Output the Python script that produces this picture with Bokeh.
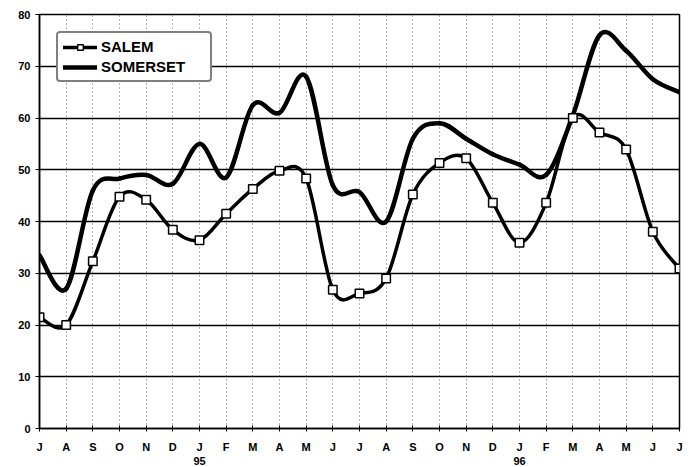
import numpy as np
from bokeh.plotting import figure
from bokeh.models import FixedTicker, LinearAxis, Legend, LegendItem, ColumnDataSource
from bokeh.embed import file_html
from bokeh.resources import INLINE

# ---- data ----
months = ["J", "A", "S", "O", "N", "D", "J", "F", "M", "A", "M", "J",
          "J", "A", "S", "O", "N", "D", "J", "F", "M", "A", "M", "J", "J"]
year_pos = [6, 18]
year_labels = ["95", "96"]
salem = [21.5, 20, 32.3, 44.8, 44.2, 38.4, 36.4, 41.5, 46.3, 49.8, 48.3, 26.8,
         26.1, 29, 45.2, 51.3, 52.2, 43.6, 35.9, 43.6, 60, 57.2, 53.9, 38, 30.9]
somerset = [33.5, 27, 46, 48.3, 49, 47.3, 55, 48.5, 62.5, 61, 68, 47,
            45.7, 40, 56, 59, 56, 53, 51, 49, 60.5, 76, 73, 67.5, 65]
y_ticks = [0, 10, 20, 30, 40, 50, 60, 70, 80]

FONT = "Liberation Sans"


def bezier_source(vals):
    y = np.asarray(vals, dtype=float)
    x = np.arange(len(y), dtype=float)
    xp = np.concatenate([[x[0]], x, [x[-1]]])
    yp = np.concatenate([[y[0]], y, [y[-1]]])
    n = len(y) - 1
    i = np.arange(n)
    return ColumnDataSource(dict(
        x0=x[i], y0=y[i], x1=x[i + 1], y1=y[i + 1],
        cx0=x[i] + (xp[i + 2] - xp[i]) / 6.0,
        cy0=y[i] + (yp[i + 2] - yp[i]) / 6.0,
        cx1=x[i + 1] - (xp[i + 3] - xp[i + 1]) / 6.0,
        cy1=y[i + 1] - (yp[i + 3] - yp[i + 1]) / 6.0,
    ))


p = figure(width=688, height=467, x_range=(0, len(months) - 1), y_range=(0, 80),
           output_backend="svg", toolbar_location=None,
           min_border_left=39, min_border_right=9, min_border_top=14, min_border_bottom=0,
           background_fill_color="white", border_fill_color="white")

p.outline_line_color = "black"
p.outline_line_width = 1.5

# axes
xt = list(range(len(months)))
p.xaxis.ticker = FixedTicker(ticks=xt)
p.xaxis.major_label_overrides = {i: m for i, m in enumerate(months)}
p.xaxis.major_tick_in = 3
p.xaxis.major_tick_out = 3
p.xaxis.major_label_standoff = 9
p.yaxis.ticker = FixedTicker(ticks=y_ticks)
p.yaxis.major_tick_in = 0
p.yaxis.major_tick_out = 4
p.yaxis.major_label_standoff = 5
for ax in (p.xaxis, p.yaxis):
    ax.axis_line_color = "black"
    ax.axis_line_width = 1.5
    ax.major_tick_line_color = "black"
    ax.major_tick_line_width = 1
    ax.minor_tick_line_color = None
    ax.major_label_text_font = FONT
    ax.major_label_text_font_style = "bold"
    ax.major_label_text_font_size = "11px"
    ax.major_label_text_color = "black"

year_axis = LinearAxis(ticker=FixedTicker(ticks=year_pos),
                       major_label_overrides={k: v for k, v in zip(year_pos, year_labels)},
                       axis_line_color=None, major_tick_line_color=None,
                       minor_tick_line_color=None, major_label_standoff=1,
                       major_tick_in=0, major_tick_out=0,
                       major_label_text_font=FONT, major_label_text_font_style="bold",
                       major_label_text_font_size="11px", major_label_text_color="black")
p.add_layout(year_axis, "below")

# grids
p.xgrid.ticker = FixedTicker(ticks=xt)
p.xgrid.grid_line_color = "#666666"
p.xgrid.grid_line_dash = "1 3"
p.xgrid.grid_line_width = 1
p.ygrid.ticker = FixedTicker(ticks=y_ticks)
p.ygrid.grid_line_color = "black"
p.ygrid.grid_line_width = 1.5

# series
r_som = p.bezier(source=bezier_source(somerset), x0="x0", y0="y0", x1="x1", y1="y1",
                 cx0="cx0", cy0="cy0", cx1="cx1", cy1="cy1",
                 line_color="black", line_width=4.5, line_cap="round")
r_sal = p.bezier(source=bezier_source(salem), x0="x0", y0="y0", x1="x1", y1="y1",
                 cx0="cx0", cy0="cy0", cx1="cx1", cy1="cy1",
                 line_color="black", line_width=3.5, line_cap="round")
r_pts = p.scatter(x=xt, y=salem, marker="square", size=8.5, fill_color="white",
                  line_color="black", line_width=1.5)

legend = Legend(items=[LegendItem(label="SALEM", renderers=[r_sal, r_pts]),
                       LegendItem(label="SOMERSET", renderers=[r_som])],
                location="top_left", margin=17, padding=5, spacing=3,
                glyph_width=34, glyph_height=14, label_standoff=4, label_width=104,
                label_text_font=FONT, label_text_font_style="bold",
                label_text_font_size="15px", label_text_color="black",
                border_line_color="black", border_line_width=2,
                background_fill_color="white", background_fill_alpha=1)
if "border_radius" in Legend.properties():
    legend.border_radius = 4
p.add_layout(legend)

open("out.html", "w").write(file_html(p, INLINE))
